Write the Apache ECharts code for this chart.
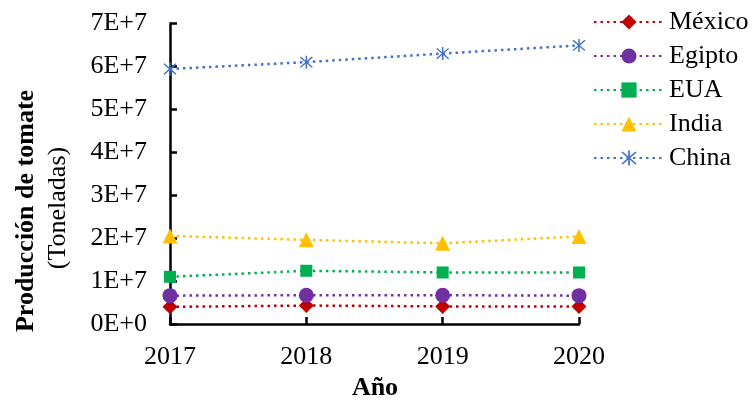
<!DOCTYPE html>
<html>
<head>
<meta charset="utf-8">
<script src="https://cdn.jsdelivr.net/npm/echarts@6/dist/echarts.min.js"></script>
<style>html,body{margin:0;padding:0;background:#fff;}#c{width:754px;height:401px;}</style>
</head>
<body>
<div id="c"></div>
<script>
var years = ['2017', '2018', '2019', '2020'];
var mexico = [4.0e6, 4.3e6, 4.1e6, 4.1e6];
var egipto = [6.6e6, 6.7e6, 6.7e6, 6.6e6];
var eua = [1.10e7, 1.24e7, 1.20e7, 1.20e7];
var india = [2.05e7, 1.96e7, 1.88e7, 2.04e7];
var china = [5.94e7, 6.10e7, 6.30e7, 6.49e7];
var yTicks = ['0E+0', '1E+7', '2E+7', '3E+7', '4E+7', '5E+7', '6E+7', '7E+7'];

var FONT = '"Liberation Serif", "Times New Roman", serif';
var asterisk = 'path://M9 0L11 0L11 20L9 20Z M2.7 1.3L18.7 17.3L17.3 18.7L1.3 2.7Z M17.3 1.3L18.7 2.7L2.7 18.7L1.3 17.3Z';

function mk(name, data, color, symbol, size) {
  return {
    name: name, type: 'line', data: data,
    symbol: symbol, symbolSize: size,
    itemStyle: { color: color },
    lineStyle: { color: color, width: 2.5, type: [2.5, 4] },
    emphasis: { disabled: true },
    animation: false
  };
}

var chart = echarts.init(document.getElementById('c'));
chart.setOption({
  animation: false,
  grid: { left: 170, right: 175, top: 23.5, bottom: 77, containLabel: false },
  xAxis: {
    type: 'category', data: years, boundaryGap: false,
    axisLine: { lineStyle: { color: '#000', width: 2.5 } },
    axisTick: { inside: true, length: 7, alignWithLabel: true, lineStyle: { color: '#000', width: 2.5 } },
    axisLabel: { color: '#000', fontFamily: FONT, fontSize: 26, margin: 20 },
    splitLine: { show: false }
  },
  yAxis: {
    type: 'value', min: 0, max: 7e7, interval: 1e7,
    axisLine: { show: true, lineStyle: { color: '#000', width: 2.5 } },
    axisTick: { show: true, inside: true, length: 7, lineStyle: { color: '#000', width: 2.5 } },
    axisLabel: {
      color: '#000', fontFamily: FONT, fontSize: 26, margin: 23,
      formatter: function (v) { return yTicks[Math.round(v / 1e7)]; }
    },
    splitLine: { show: false }
  },
  legend: {
    orient: 'vertical', left: 593, top: 9, padding: 0,
    itemWidth: 70, itemHeight: 19, itemGap: 8,
    textStyle: { color: '#000', fontFamily: FONT, fontSize: 26 },
    data: ['México', 'Egipto', 'EUA', 'India', 'China']
  },
  graphic: [
    { type: 'text', x: 26, y: 211, rotation: Math.PI / 2, style: { text: 'Producción de tomate', font: 'bold 26px ' + FONT, fill: '#000', align: 'center', verticalAlign: 'middle' } },
    { type: 'text', x: 58, y: 208, rotation: Math.PI / 2, style: { text: '(Toneladas)', font: '26px ' + FONT, fill: '#000', align: 'center', verticalAlign: 'middle' } },
    { type: 'text', x: 375, y: 388, style: { text: 'Año', font: 'bold 26px ' + FONT, fill: '#000', align: 'center', verticalAlign: 'middle' } }
  ],
  series: [
    mk('México', mexico, '#C00000', 'diamond', 15),
    mk('Egipto', egipto, '#7030A0', 'circle', 15),
    mk('EUA', eua, '#00B050', 'rect', 12),
    mk('India', india, '#FFC000', 'triangle', 15),
    mk('China', china, '#4472C4', asterisk, 13)
  ]
});
</script>
</body>
</html>
